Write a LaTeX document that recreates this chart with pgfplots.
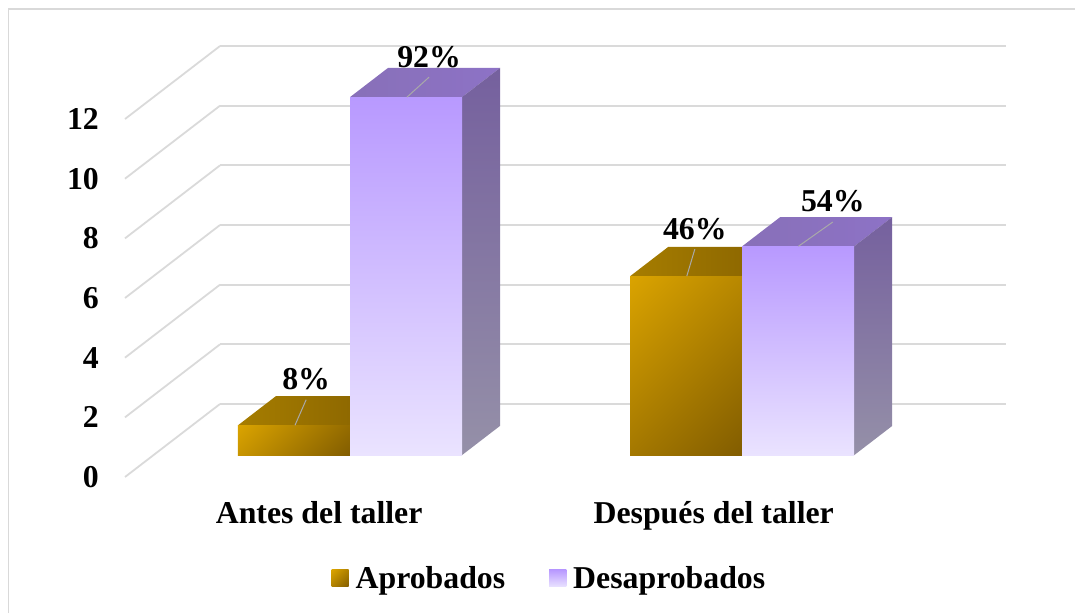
\documentclass[border=0pt]{standalone}
\usepackage{fontspec}
\setmainfont{Liberation Serif}
\usepackage{pgfplots}
\pgfplotsset{compat=1.18}
\definecolor{gridc}{HTML}{DADADA}
\definecolor{framec}{HTML}{D9D9D9}
\definecolor{leadc}{HTML}{A9A9A9}
\newcommand{\bigf}{\fontsize{31.8}{36}\selectfont\bfseries}
\definecolor{purpT}{HTML}{B899FF}
\definecolor{purpB}{HTML}{EAE3FF}
\definecolor{sideT}{HTML}{75609E}
\definecolor{sideB}{HTML}{9590A8}
\definecolor{ptopL}{HTML}{8870B8}
\definecolor{ptopR}{HTML}{8D72C6}
\definecolor{gtopL}{HTML}{A67D00}
\definecolor{gtopR}{HTML}{876200}
\definecolor{goldA}{HTML}{E0A800}
\definecolor{goldB}{HTML}{7C5800}
\pgfdeclareverticalshading{goldshade}{100bp}{%
  color(0bp)=(goldB);color(10bp)=(goldB);color(90bp)=(goldA);color(100bp)=(goldA)}
\tikzset{
 goldfront/.style={draw=none,shading=goldshade,shading angle=45},
 purplefront/.style={draw=none,top color=purpT,bottom color=purpB},
 purpleside/.style={draw=none,top color=sideT,bottom color=sideB},
 purpletop/.style={draw=none,left color=ptopL,right color=ptopR},
 goldtop/.style={draw=none,left color=gtopL,right color=gtopR},
}
\begin{document}
\begin{tikzpicture}[x=1pt,y=1pt]
\path[use as bounding box] (0,0) rectangle (1075,613);
\draw[framec,line width=1.5pt] (8.5,0) -- (8.5,604) -- (1075,604);
\begin{axis}[
  at={(125pt,136pt)}, anchor=origin,
  x={(393pt,0pt)}, y={(95pt,73pt)}, z={(0pt,29.83pt)},
  xmin=0,xmax=2,ymin=0,ymax=1,zmin=0,zmax=12,
  clip=false,
  axis line style={draw=none},
  major tick length=0pt,
  xtick={0.494,1.498},
  xticklabels={Antes del taller,Después del taller},
  ytick=\empty,
  ztick={0,2,4,6,8,10,12},
  zmajorgrids=true,
  xmajorgrids=false,
  major grid style={gridc,line width=1.8pt},
  /pgf/number format/assume math mode=true,
  tick label style={font=\bigf,black},
  x tick label style={anchor=base,yshift=-46pt},
  z tick label style={anchor=east,inner sep=0pt,xshift=-26pt},
  legend columns=2,
  legend style={draw=none,fill=none,font=\bigf,at={(axis cs:1.08,0,-3.4)},anchor=center,
     /tikz/every odd column/.append style={column sep=5pt},
     /tikz/every even column/.append style={column sep=42pt}},
  legend image code/.code={\path[#1] (0pt,-8.5pt) rectangle (17pt,8.5pt);},
]
% Aprobados
\addplot3[goldtop,forget plot] coordinates {(0.215,0.3,1)(0.5,0.3,1)(0.5,0.7,1)(0.215,0.7,1)(0.215,0.3,1)};
\addplot3[goldfront] coordinates {(0.215,0.3,0)(0.5,0.3,0)(0.5,0.3,1)(0.215,0.3,1)(0.215,0.3,0)};
\addlegendentry{Aprobados}
\addplot3[goldtop,forget plot] coordinates {(1.213,0.3,6)(1.498,0.3,6)(1.498,0.7,6)(1.213,0.7,6)(1.213,0.3,6)};
\addplot3[goldfront,forget plot] coordinates {(1.213,0.3,0)(1.498,0.3,0)(1.498,0.3,6)(1.213,0.3,6)(1.213,0.3,0)};
% Desaprobados
\addplot3[purpletop,forget plot] coordinates {(0.5,0.3,12)(0.785,0.3,12)(0.785,0.7,12)(0.5,0.7,12)(0.5,0.3,12)};
\addplot3[purpleside,forget plot] coordinates {(0.785,0.3,0)(0.785,0.7,0)(0.785,0.7,12)(0.785,0.3,12)(0.785,0.3,0)};
\addplot3[purplefront] coordinates {(0.5,0.3,0)(0.785,0.3,0)(0.785,0.3,12)(0.5,0.3,12)(0.5,0.3,0)};
\addlegendentry{Desaprobados}
\addplot3[purpletop,forget plot] coordinates {(1.498,0.3,7)(1.783,0.3,7)(1.783,0.7,7)(1.498,0.7,7)(1.498,0.3,7)};
\addplot3[purpleside,forget plot] coordinates {(1.783,0.3,0)(1.783,0.7,0)(1.783,0.7,7)(1.783,0.3,7)(1.783,0.3,0)};
\addplot3[purplefront,forget plot] coordinates {(1.498,0.3,0)(1.783,0.3,0)(1.783,0.3,7)(1.498,0.3,7)(1.498,0.3,0)};
% leaders and labels
\addplot3[leadc,line width=1pt,forget plot] coordinates {(0.360,0.3,1)(0.304,0.649,1)} node[pos=1,anchor=base,yshift=10pt,black,font=\bigf,inner sep=0pt]{8\%};
\addplot3[leadc,line width=1pt,forget plot] coordinates {(0.645,0.3,12)(0.635,0.574,12)} node[pos=1,anchor=base,yshift=10pt,black,font=\bigf,inner sep=0pt]{92\%};
\addplot3[leadc,line width=1pt,forget plot] coordinates {(1.357,0.3,6)(1.288,0.67,6)} node[pos=1,anchor=base,yshift=10pt,black,font=\bigf,inner sep=0pt]{46\%};
\addplot3[leadc,line width=1pt,forget plot] coordinates {(1.641,0.3,7)(1.648,0.633,7)} node[pos=1,anchor=base,yshift=10pt,black,font=\bigf,inner sep=0pt]{54\%};
\end{axis}
\end{tikzpicture}
\end{document}
